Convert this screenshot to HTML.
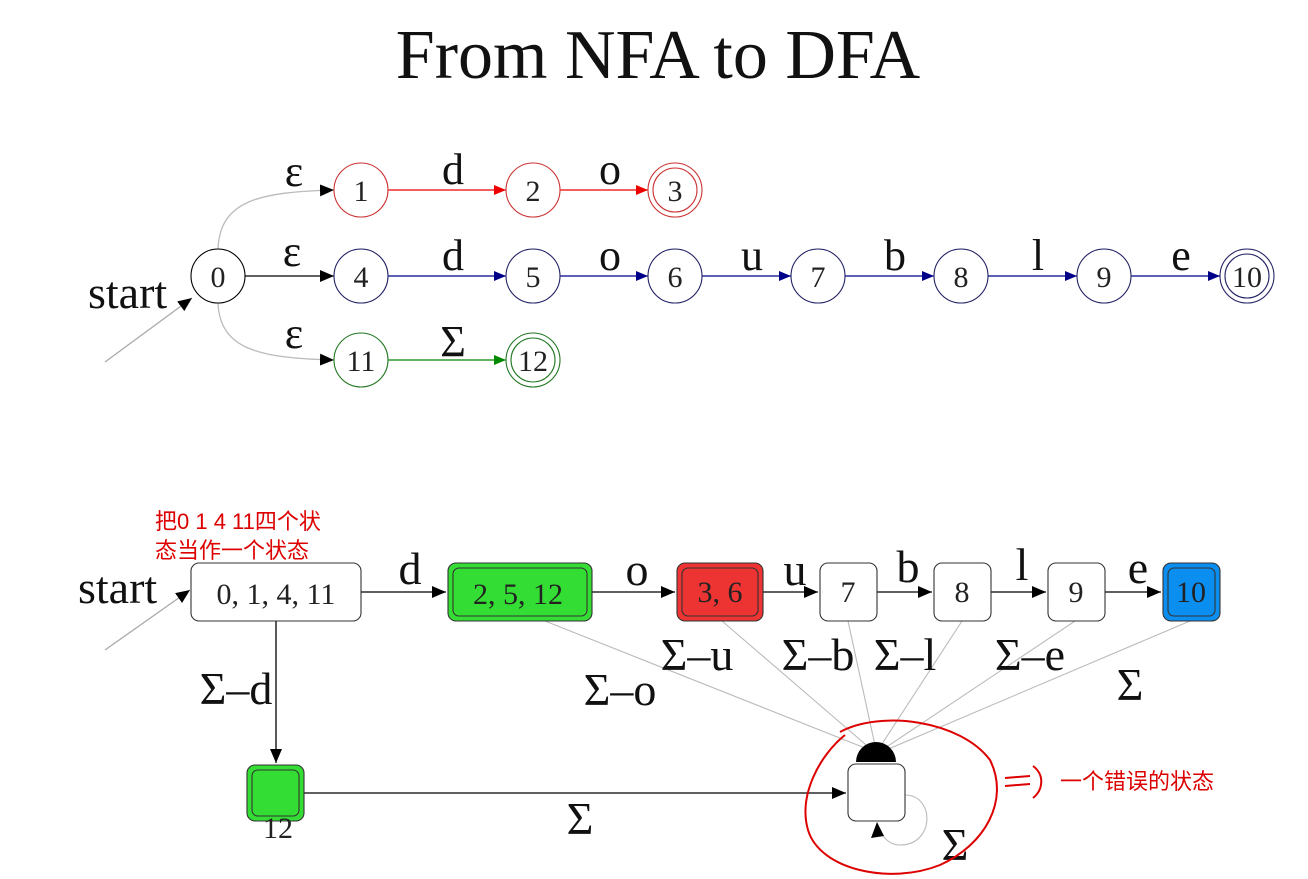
<!DOCTYPE html>
<html><head><meta charset="utf-8"><style>
body{margin:0;background:#fff}
svg{display:block}
.t{font-family:"Liberation Serif",serif;fill:#111}
.n{font-family:"Liberation Serif",serif;font-size:30px;fill:#222;text-anchor:middle}
.c{font-family:"Liberation Sans","Noto Sans CJK SC",sans-serif;fill:#d00;font-size:22px}
</style></head><body>
<svg width="1308" height="879" viewBox="0 0 1308 879">
<defs>
<marker id="ar" markerWidth="12" markerHeight="10" refX="12" refY="5" orient="auto" markerUnits="userSpaceOnUse" viewBox="0 0 12 10"><path d="M0,0L12,5L0,10z" fill="#e00"/></marker>
<marker id="ab" markerWidth="12" markerHeight="10" refX="12" refY="5" orient="auto" markerUnits="userSpaceOnUse" viewBox="0 0 12 10"><path d="M0,0L12,5L0,10z" fill="#008"/></marker>
<marker id="ag" markerWidth="12" markerHeight="10" refX="12" refY="5" orient="auto" markerUnits="userSpaceOnUse" viewBox="0 0 12 10"><path d="M0,0L12,5L0,10z" fill="#080"/></marker>
<marker id="a2" markerWidth="14" markerHeight="12" refX="14" refY="6" orient="auto" markerUnits="userSpaceOnUse" viewBox="0 0 14 12"><path d="M0,0L14,6L0,12z" fill="#000"/></marker>
</defs>
<text class="t" x="658" y="78" font-size="70" text-anchor="middle">From NFA to DFA</text>

<g>
<line x1="105" y1="362" x2="192" y2="298" stroke="#aaa" stroke-width="1.3" marker-end="url(#a2)"/>
<text class="t" x="88" y="308" font-size="46">start</text>
<path d="M218,249 C220,200 260,192 334,190" fill="none" stroke="#bbb" stroke-width="1.3" marker-end="url(#a2)"/>
<path d="M218,303 C220,350 260,358 334,360" fill="none" stroke="#bbb" stroke-width="1.3" marker-end="url(#a2)"/>
<line x1="245" y1="276" x2="334" y2="276" stroke="#000" stroke-width="1.3" marker-end="url(#a2)"/>
<line x1="388" y1="190" x2="506" y2="190" stroke="#e00" stroke-width="1.3" marker-end="url(#ar)"/>
<line x1="560" y1="190" x2="648" y2="190" stroke="#e00" stroke-width="1.3" marker-end="url(#ar)"/>
<line x1="388" y1="276" x2="506" y2="276" stroke="#008" stroke-width="1.3" marker-end="url(#ab)"/>
<line x1="560" y1="276" x2="648" y2="276" stroke="#008" stroke-width="1.3" marker-end="url(#ab)"/>
<line x1="702" y1="276" x2="791" y2="276" stroke="#008" stroke-width="1.3" marker-end="url(#ab)"/>
<line x1="845" y1="276" x2="934" y2="276" stroke="#008" stroke-width="1.3" marker-end="url(#ab)"/>
<line x1="988" y1="276" x2="1077" y2="276" stroke="#008" stroke-width="1.3" marker-end="url(#ab)"/>
<line x1="1131" y1="276" x2="1220" y2="276" stroke="#008" stroke-width="1.3" marker-end="url(#ab)"/>
<line x1="388" y1="360" x2="506" y2="360" stroke="#080" stroke-width="1.3" marker-end="url(#ag)"/>
<g fill="#fff" stroke-width="1.1">
<circle cx="218" cy="276" r="27" stroke="#000"/>
<circle cx="361" cy="190" r="27" stroke="#c33"/><circle cx="533" cy="190" r="27" stroke="#c33"/>
<circle cx="675" cy="190" r="27" stroke="#c33"/><circle cx="675" cy="190" r="22" stroke="#c33"/>
<circle cx="361" cy="276" r="27" stroke="#226"/><circle cx="533" cy="276" r="27" stroke="#226"/>
<circle cx="675" cy="276" r="27" stroke="#226"/><circle cx="818" cy="276" r="27" stroke="#226"/>
<circle cx="961" cy="276" r="27" stroke="#226"/><circle cx="1104" cy="276" r="27" stroke="#226"/>
<circle cx="1247" cy="276" r="27" stroke="#226"/><circle cx="1247" cy="276" r="22" stroke="#226"/>
<circle cx="361" cy="360" r="27" stroke="#272"/><circle cx="533" cy="360" r="27" stroke="#272"/><circle cx="533" cy="360" r="22" stroke="#272"/>
</g>
<g class="n">
<text x="218" y="287">0</text><text x="361" y="201">1</text><text x="533" y="201">2</text><text x="675" y="201">3</text>
<text x="361" y="287">4</text><text x="533" y="287">5</text><text x="675" y="287">6</text><text x="818" y="287">7</text>
<text x="961" y="287">8</text><text x="1104" y="287">9</text><text x="1247" y="287">10</text>
<text x="361" y="371">11</text><text x="533" y="371">12</text>
</g>
<g class="t" font-size="44" text-anchor="middle">
<text x="294" y="186">ε</text><text x="453" y="184">d</text><text x="610" y="184">o</text>
<text x="292" y="266">ε</text><text x="453" y="270">d</text><text x="610" y="270">o</text><text x="752" y="270">u</text>
<text x="895" y="270">b</text><text x="1038" y="270">l</text><text x="1181" y="270">e</text>
<text x="294" y="348">ε</text><text x="453" y="356">Σ</text>
</g>
</g>

<g>
<line x1="105" y1="650" x2="190" y2="590" stroke="#aaa" stroke-width="1.3" marker-end="url(#a2)"/>
<text class="t" x="78" y="603" font-size="46">start</text>
<g stroke="#bbb" stroke-width="1.1">
<line x1="545" y1="621" x2="870" y2="750"/><line x1="722" y1="621" x2="872" y2="750"/>
<line x1="848" y1="621" x2="876" y2="750"/><line x1="962" y1="621" x2="878" y2="750"/>
<line x1="1075" y1="621" x2="882" y2="750"/><line x1="1190" y1="621" x2="886" y2="750"/>
<path d="M905,795 C935,795 935,845 900,845 C888,845 880,835 877,823" fill="none"/>
</g>
<path d="M856,762 A20,20 0 0 1 896,762 Z" fill="#000"/>
<path d="M871,838 L877,822 L884,836 Z" fill="#000"/>
<line x1="361" y1="592" x2="446" y2="592" stroke="#000" stroke-width="1.3" marker-end="url(#a2)"/>
<line x1="592" y1="592" x2="675" y2="592" stroke="#000" stroke-width="1.3" marker-end="url(#a2)"/>
<line x1="763" y1="592" x2="818" y2="592" stroke="#000" stroke-width="1.3" marker-end="url(#a2)"/>
<line x1="877" y1="592" x2="932" y2="592" stroke="#000" stroke-width="1.3" marker-end="url(#a2)"/>
<line x1="991" y1="592" x2="1046" y2="592" stroke="#000" stroke-width="1.3" marker-end="url(#a2)"/>
<line x1="1105" y1="592" x2="1161" y2="592" stroke="#000" stroke-width="1.3" marker-end="url(#a2)"/>
<line x1="276" y1="621" x2="276" y2="763" stroke="#000" stroke-width="1.3" marker-end="url(#a2)"/>
<line x1="304" y1="793" x2="846" y2="793" stroke="#000" stroke-width="1.3" marker-end="url(#a2)"/>
<g stroke="#333" stroke-width="1.1">
<rect x="191" y="563" width="170" height="58" rx="8" fill="#fff"/>
<rect x="448" y="563" width="144" height="58" rx="8" fill="#33dd33"/><rect x="453" y="568" width="134" height="48" rx="6" fill="none"/>
<rect x="677" y="563" width="86" height="58" rx="8" fill="#ee3333"/><rect x="682" y="568" width="76" height="48" rx="6" fill="none"/>
<rect x="820" y="563" width="57" height="58" rx="8" fill="#fff"/>
<rect x="934" y="563" width="57" height="58" rx="8" fill="#fff"/>
<rect x="1048" y="563" width="57" height="58" rx="8" fill="#fff"/>
<rect x="1163" y="563" width="57" height="58" rx="8" fill="#0a8ef0"/><rect x="1168" y="568" width="47" height="48" rx="6" fill="none"/>
<rect x="848" y="764" width="57" height="57" rx="8" fill="#fff"/>
<rect x="247" y="765" width="57" height="56" rx="8" fill="#33dd33"/><rect x="252" y="770" width="47" height="46" rx="6" fill="none"/>
</g>
<g class="n" font-size="35">
<text x="276" y="604">0, 1, 4, 11</text><text x="518" y="604">2, 5, 12</text><text x="720" y="602">3, 6</text>
<text x="848" y="602">7</text><text x="962" y="602">8</text><text x="1076" y="602">9</text><text x="1191" y="602">10</text>
<text x="278" y="838">12</text>
</g>
<g class="t" font-size="46" text-anchor="middle">
<text x="410" y="584">d</text><text x="637" y="585">o</text><text x="795" y="585">u</text><text x="908" y="582">b</text>
<text x="1022" y="580">l</text><text x="1138" y="583">e</text>
<text x="236" y="704">Σ–d</text><text x="620" y="705">Σ–o</text><text x="697" y="670">Σ–u</text><text x="818" y="670">Σ–b</text>
<text x="905" y="670">Σ–l</text><text x="1030" y="670">Σ–e</text><text x="1130" y="700">Σ</text>
<text x="580" y="834">Σ</text><text x="955" y="860">Σ</text>
</g>
</g>

<g>
<text class="c" x="155" y="529">把0 1 4 11四个状</text>
<text class="c" x="155" y="558">态当作一个状态</text>
<text class="c" x="1060" y="789" font-size="23">一个错误的状态</text>
<path d="M840,732 C880,710 960,720 990,760 C1010,800 985,845 940,865 C890,885 820,870 808,830 C798,795 820,755 845,735" fill="none" stroke="#d00" stroke-width="2"/>
<path d="M1005,778 L1030,776 M1005,786 L1030,784 M1033,766 C1045,775 1043,790 1033,798" fill="none" stroke="#d00" stroke-width="2"/>
</g>
</svg>
</body></html>
